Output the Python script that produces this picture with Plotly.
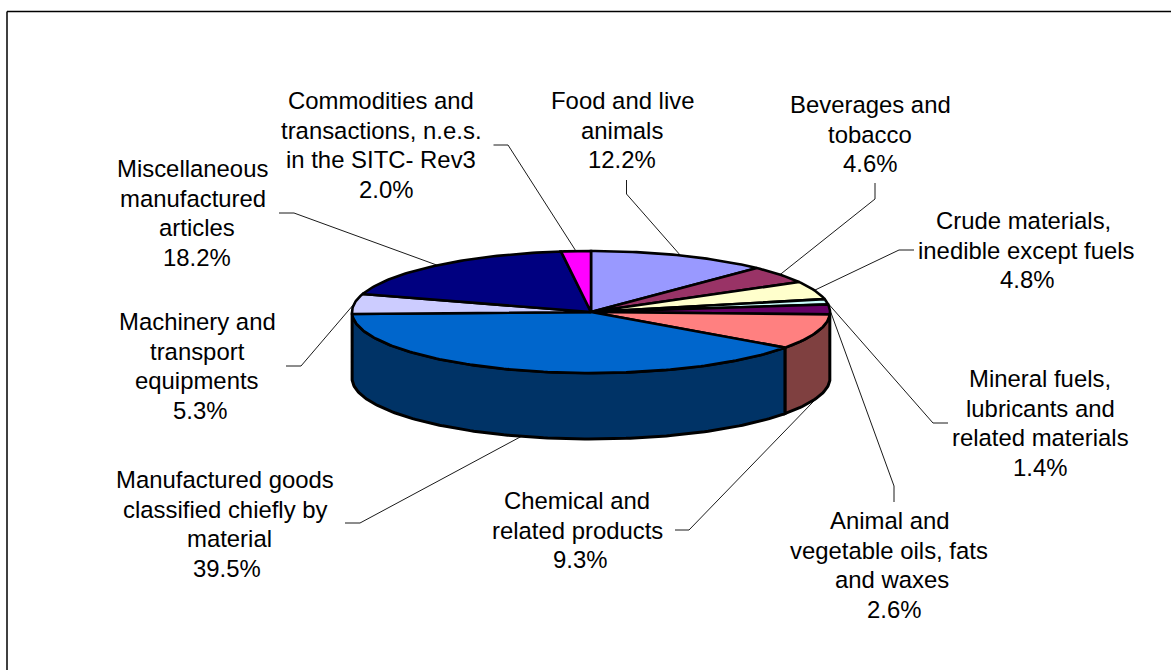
import math
import plotly.graph_objects as go

# ---- data ----
categories = [
    "Food and live animals",
    "Beverages and tobacco",
    "Crude materials, inedible except fuels",
    "Mineral fuels, lubricants and related materials",
    "Animal and vegetable oils, fats and waxes",
    "Chemical and related products",
    "Manufactured goods classified chiefly by material",
    "Machinery and transport equipments",
    "Miscellaneous manufactured articles",
    "Commodities and transactions, n.e.s. in the SITC- Rev3",
]
values = [12.2, 4.6, 4.8, 1.4, 2.6, 9.3, 39.5, 5.3, 18.2, 2.0]
label_lines = [
    ["Food and live", "animals"],
    ["Beverages and", "tobacco"],
    ["Crude materials,", "inedible except fuels"],
    ["Mineral fuels,", "lubricants and", "related materials"],
    ["Animal and", "vegetable oils, fats", "and waxes"],
    ["Chemical and", "related products"],
    ["Manufactured goods", "classified chiefly by", "material"],
    ["Machinery and", "transport", "equipments"],
    ["Miscellaneous", "manufactured", "articles"],
    ["Commodities and", "transactions, n.e.s.", "in the SITC- Rev3"],
]
top_colors = ["#9999FF", "#993366", "#FFFFCC", "#CCFFFF", "#660066",
              "#FF8080", "#0066CC", "#CCCCFF", "#000080", "#FF00FF"]

# ---- layout / styling (pixel space of the page) ----
W, H = 1171, 670
CX, CY, RX, RY, DEPTH = 591, 312, 239, 61, 66
FONT = dict(family="Liberation Sans, Arial, sans-serif", size=23.9, color="#000000")
LINE_H = 29.9
# label block centre (x, y), then elbow and text-side end of each leader
label_pos = [(622, 130), (870, 134), (1026, 250), (1040, 423), (889, 565),
             (577, 530), (225, 524), (197, 366), (192.5, 213), (381, 145)]
# horizontal offset of each row from the block centre (last row = percentage)
row_shift = [
    [0, 0, 0], [0, 0, 0], [-3, 0, 1], [0, 0, 0, 0], [1, 0, 3, 5],
    [0, 0, 3], [0, 0, 4, 2], [0, 0, 0, 3], [0, 0, 4, 4.5], [0, 0, 0, 4.5],
]
elbows = [(626.5, 194), (875, 199), (899, 250), (933, 423), (894, 486),
          (689, 530), (360, 523), (301, 366), (294, 213), (508, 145)]
stubs = [(626.5, 180), (875, 183), (914, 250), (948, 423), (894, 502),
         (675, 530), (345, 523), (286, 366), (279, 213), (493.5, 145)]


def pt(deg, drop=0.0):
    a = math.radians(deg)
    return CX + RX * math.sin(a), CY - RY * math.cos(a) + drop


def arc(a0, a1, drop=0.0):
    n = max(2, int(abs(a1 - a0)) + 2)
    return [pt(a0 + (a1 - a0) * i / (n - 1), drop) for i in range(n)]


def darken(c):
    r, g, b = (int(c[i:i + 2], 16) // 2 for i in (1, 3, 5))
    return f"#{r:02x}{g:02x}{b:02x}"


fig = go.Figure()


def poly(points, fill, width):
    fig.add_trace(go.Scatter(
        x=[p[0] for p in points], y=[p[1] for p in points], mode="lines",
        fill="toself", fillcolor=fill, line=dict(color="#000000", width=width),
        hoverinfo="skip", showlegend=False))


total = sum(values)
edges = [0.0]
for v in values:
    edges.append(edges[-1] + v / total * 360)

# leader lines sit under the disc: start at the rim at each slice's middle angle
for i in range(len(values)):
    mid = (edges[i] + edges[i + 1]) / 2
    rim = pt(mid, DEPTH if 100 < mid < 260 else 0)
    fig.add_trace(go.Scatter(
        x=[stubs[i][0], elbows[i][0], rim[0]],
        y=[stubs[i][1], elbows[i][1], rim[1]],
        mode="lines", line=dict(color="#1a1a1a", width=1),
        hoverinfo="skip", showlegend=False))

# front wall of the disc
for i, c in enumerate(top_colors):
    a0, a1 = max(edges[i], 90), min(edges[i + 1], 270)
    if a1 - a0 > 3:
        poly(arc(a0, a1) + arc(a1, a0, DEPTH) + [pt(a0)], darken(c), 3)

# top face
for i, c in enumerate(top_colors):
    poly([(CX, CY)] + arc(edges[i], edges[i + 1]) + [(CX, CY)], c, 2.6)

# labels: one annotation per text line for the original line spacing
annotations = []
for i, lines in enumerate(label_lines):
    rows = lines + [f"{values[i]:.1f}%"]
    x, yc = label_pos[i]
    for j, row in enumerate(rows):
        annotations.append(dict(
            x=x + row_shift[i][j], y=yc + (j - (len(rows) - 1) / 2) * LINE_H, text=row,
            xref="x", yref="y", showarrow=False, font=FONT,
            xanchor="center", yanchor="middle"))

shapes = [dict(type="line", xref="x", yref="y", x0=7, y0=11.5, x1=W + 5, y1=11.5,
               line=dict(color="#000000", width=1.5)),
          dict(type="line", xref="x", yref="y", x0=7, y0=11.5, x1=7, y1=H + 5,
               line=dict(color="#000000", width=1.5))]

fig.update_layout(
    width=W, height=H, margin=dict(l=0, r=0, t=0, b=0),
    paper_bgcolor="#FFFFFF", plot_bgcolor="#FFFFFF", showlegend=False,
    xaxis=dict(visible=False, range=[0, W], fixedrange=True),
    yaxis=dict(visible=False, range=[H, 0], fixedrange=True),
    annotations=annotations, shapes=shapes,
)
fig.write_html("out.html", post_script="document.body.style.margin='0';",
               config={"displayModeBar": False})
